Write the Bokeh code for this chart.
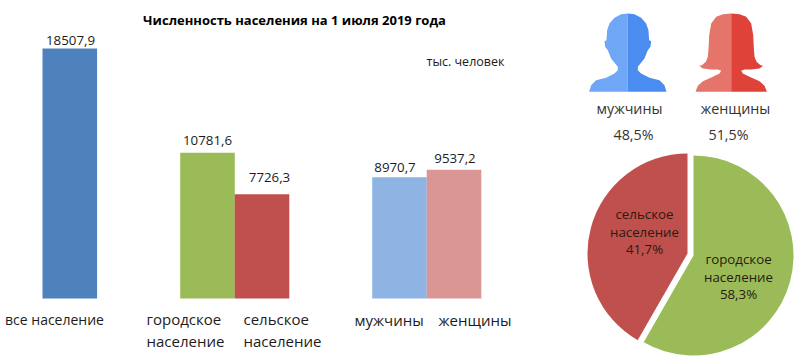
import math
from bokeh.plotting import figure
from bokeh.models import Range1d
from bokeh.core.properties import value
from bokeh.embed import file_html
from bokeh.resources import INLINE

title = "Численность населения на 1 июля 2019 года"
unit = "тыс. человек"
bar_values = [18507.9, 10781.6, 7726.3, 8970.7, 9537.2]
bar_labels = ["18507,9", "10781,6", "7726,3", "8970,7", "9537,2"]
bar_colors = ["#4F81BD", "#9BBB59", "#C0504D", "#8EB4E3", "#D99694"]
bar_centers = [69.3, 207, 261.5, 399, 453.5]
bar_label_x = [70, 207, 269, 394.5, 454.5]
bar_label_gap = [-4, -7.5, -12, -5, -7]
cat_names = ["городское", "население", "сельское", "население", "мужчины", "женщины"]
cat_x = [146, 146, 243, 243, 354, 438]
cat_y = [318.5, 340, 318.5, 340, 319, 319]
all_name = "все население"
pie_values = [58.3, 41.7]
pie_colors = ["#9BBB59", "#C0504D"]
pie_cx = [693, 687]
pie_cy = [255, 253]
pie_text = ["городское", "население", "58,3%", "сельское", "население", "41,7%"]
pie_tx = [738, 738, 738, 644, 644, 644]
pie_ty = [258, 276, 293, 213, 231, 248]
gender_text = ["мужчины", "женщины", "48,5%", "51,5%"]
gender_x = [629, 735, 633, 728]
gender_y = [108, 108, 134, 134]

# icon outlines, half a silhouette, in 1/3 px from the top of its box
man_dx = [0, 20, 40, 55, 62, 64, 70, 68, 60, 50, 38, 30, 30, 40, 65, 95, 110, 116, 0]
man_yz = [15, 17, 28, 45, 65, 95, 98, 115, 125, 150, 165, 175, 185, 195, 208, 215, 230, 250, 250]
wom_dx = [0, 25, 45, 60, 66, 68, 70, 76, 88, 96, 85, 60, 40, 30, 35, 55, 85, 100, 107, 0]
wom_yz = [15, 17, 25, 45, 80, 120, 145, 160, 170, 172, 180, 183, 183, 187, 195, 205, 218, 232, 250, 250]
man_c, wom_c = 627.3, 730.7

k = 250 / bar_values[0]
base_px = 298
p = figure(width=800, height=362, output_backend="svg", toolbar_location=None,
           x_range=Range1d(0, 800),
           y_range=Range1d(-(362 - base_px) / k, base_px / k),
           min_border=0, outline_line_color=None)
p.extra_y_ranges = {"px": Range1d(362, 0)}
p.xaxis.visible = False
p.yaxis.visible = False
p.grid.visible = False

p.vbar(x=bar_centers, width=54.6, bottom=0, top=bar_values, color=bar_colors, line_color=None)

font = value("Open Sans")
tc = "#1c1c1c"
p.text(x=bar_label_x, y=bar_values, text=bar_labels, text_font=font, text_font_size="13.3px",
       text_align="center", text_baseline="bottom", y_offset=bar_label_gap, text_color=tc)
p.text(x=[294], y=[19], text=[title], text_font=font, text_font_size="13px", text_font_style="bold",
       text_align="center", text_baseline="middle", text_color="#000000", y_range_name="px")
p.text(x=[465], y=[61], text=[unit], text_font=font, text_font_size="12.5px",
       text_align="center", text_baseline="middle", text_color=tc, y_range_name="px")
p.text(x=[54], y=[319], text=[all_name], text_font=font, text_font_size="14px",
       text_align="center", text_baseline="middle", text_color=tc, y_range_name="px")
p.text(x=cat_x, y=cat_y, text=cat_names, text_font=font, text_font_size="15px",
       text_align="left", text_baseline="middle", text_color=tc, y_range_name="px")

for dx, yz, c, cols in [(man_dx, man_yz, man_c, ("#6FA6F6", "#4A8CF0")),
                        (wom_dx, wom_yz, wom_c, ("#E5756B", "#DE4238"))]:
    y = [8 + v / 3 for v in yz]
    p.patch([c - d / 3 for d in dx], y, color=cols[0], line_color=None, y_range_name="px")
    p.patch([c + d / 3 for d in dx], y, color=cols[1], line_color=None, y_range_name="px")

p.text(x=gender_x, y=gender_y, text=gender_text, text_font=font, text_font_size="14.3px",
       text_align="center", text_baseline="middle", text_color="#333333", y_range_name="px")

start = math.pi / 2
total = sum(pie_values)
for v, col, cx, cy in zip(pie_values, pie_colors, pie_cx, pie_cy):
    end = start - 2 * math.pi * v / total
    p.wedge(x=[cx], y=[cy], radius=100, start_angle=end, end_angle=start,
            color=col, line_color=None, y_range_name="px")
    start = end

p.text(x=pie_tx, y=pie_ty, text=pie_text, text_font=font, text_font_size="13.3px",
       text_align="center", text_baseline="middle", text_color="#2a1a10", y_range_name="px")

open("out.html", "w").write(file_html(p, INLINE))
